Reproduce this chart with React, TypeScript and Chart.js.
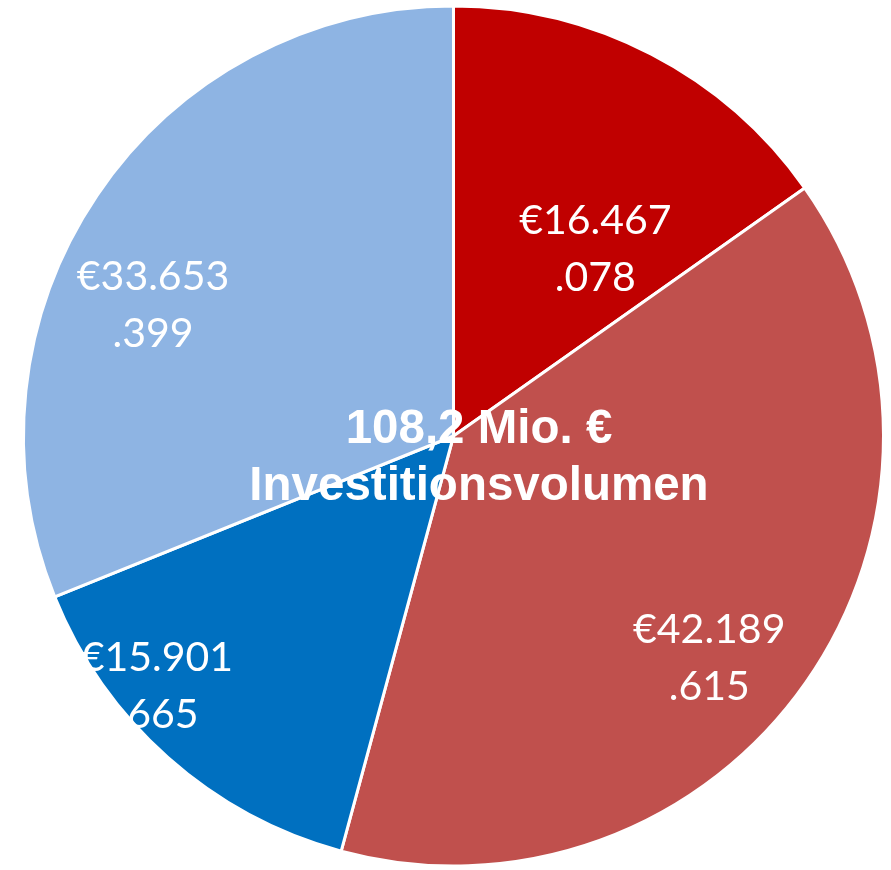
import React, { useEffect, useRef } from "react";
import { Chart, registerables } from "chart.js";

Chart.register(...registerables);

const categories = ["Segment A", "Segment B", "Segment C", "Segment D"];
const values = [16467078, 42189615, 15901665, 33653399];
const valueLabels = [
  ["€16.467", ".078"],
  ["€42.189", ".615"],
  ["€15.901", "665"],
  ["€33.653", ".399"],
];
const centerLines = ["108,2 Mio. €", "Investitionsvolumen"];
const colors = ["#C00000", "#C0504D", "#0070C0", "#8EB4E3"];

// label placement inside each slice: fraction of slice angle, fraction of radius
const labelAngleFrac = [0.68, 0.543, 0.657, 0.406];
const labelRadiusFrac = [0.545, 0.788, 0.902, 0.762];
// horizontal nudge of the second line (px), e.g. clipped leading dot
const secondLineShift = [0, 0, 6, 0];

const labelPlugin = {
  id: "sliceLabels",
  afterDatasetsDraw(chart: any) {
    const ctx = chart.ctx;
    const meta = chart.getDatasetMeta(0);
    ctx.save();
    ctx.fillStyle = "#FFFFFF";
    ctx.textAlign = "center";
    ctx.textBaseline = "middle";
    ctx.font = "41px Lato";
    meta.data.forEach((arc: any, i: number) => {
      const { x, y, startAngle, endAngle, outerRadius } = arc.getProps(
        ["x", "y", "startAngle", "endAngle", "outerRadius"],
        true
      );
      const a = startAngle + labelAngleFrac[i] * (endAngle - startAngle);
      const r = outerRadius * labelRadiusFrac[i];
      const lx = x + Math.cos(a) * r;
      const ly = y + Math.sin(a) * r;
      const lines = valueLabels[i];
      const lh = 57;
      lines.forEach((ln, k) => {
        ctx.fillText(ln, lx + (k === 1 ? secondLineShift[i] : 0), ly + (k - (lines.length - 1) / 2) * lh);
      });
    });
    // center text
    const arc0 = meta.data[0];
    const cx = arc0.x + 25.5;
    const cy = arc0.y;
    ctx.font = "bold 47.5px 'Liberation Sans'";
    ctx.textBaseline = "alphabetic";
    ctx.fillText(centerLines[0], cx, cy + 7);
    ctx.fillText(centerLines[1], cx, cy + 64);
    ctx.restore();
  },
};

export default function App() {
  const ref = useRef<HTMLCanvasElement | null>(null);
  useEffect(() => {
    if (!ref.current) return;
    const chart = new Chart(ref.current, {
      type: "pie",
      data: {
        labels: categories,
        datasets: [
          {
            data: values,
            backgroundColor: colors,
            borderColor: "#FFFFFF",
            borderWidth: 3,
          },
        ],
      },
      options: {
        animation: false,
        responsive: true,
        maintainAspectRatio: false,
        layout: { padding: { left: 22, right: 6, top: 4.5, bottom: 2.5 } },
        plugins: {
          legend: { display: false },
          tooltip: { enabled: false },
          title: { display: false },
        },
      },
      plugins: [labelPlugin],
    });
    return () => chart.destroy();
  }, []);
  return (
    <div style={{ position: "absolute", left: 0, top: 0, width: 891, height: 870 }}>
      <canvas ref={ref} />
    </div>
  );
}
